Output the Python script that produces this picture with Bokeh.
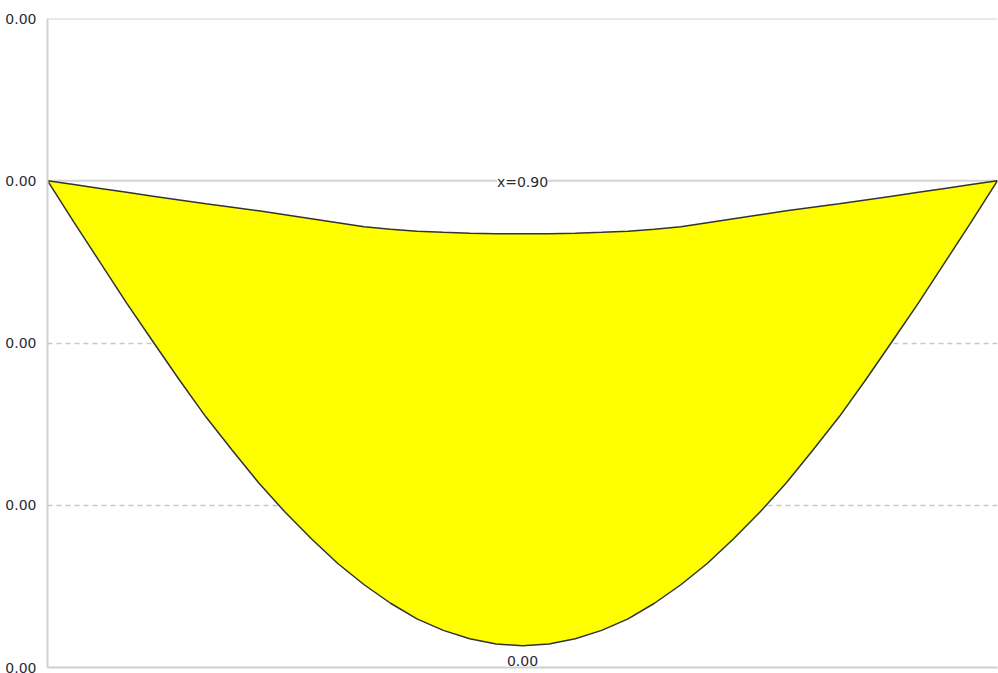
from bokeh.plotting import figure
from bokeh.models import FixedTicker, CustomJSTickFormatter, Span, Range1d
from bokeh.core.properties import value
from bokeh.embed import file_html
from bokeh.resources import INLINE

# positions along the member
x_pos = [0.0, 0.05, 0.1, 0.15, 0.2, 0.25, 0.3, 0.35, 0.4, 0.45, 0.5, 0.55,
         0.6, 0.65, 0.7, 0.75, 0.8, 0.85, 0.9, 0.95, 1.0, 1.05, 1.1, 1.15,
         1.2, 1.25, 1.3, 1.35, 1.4, 1.45, 1.5, 1.55, 1.6, 1.65, 1.7, 1.75, 1.8]
# upper (shallow) curve
upper = [0.0, -0.0000237, -0.0000475, -0.0000712, -0.0000949, -0.0001183,
         -0.0001418, -0.0001633, -0.0001849, -0.0002096, -0.0002342,
         -0.0002589, -0.0002835, -0.0002989, -0.0003112, -0.000318,
         -0.0003236, -0.000326, -0.0003267, -0.000326, -0.0003236,
         -0.000318, -0.0003112, -0.0002989, -0.0002835, -0.0002589,
         -0.0002342, -0.0002096, -0.0001849, -0.0001633, -0.0001418,
         -0.0001183, -0.0000949, -0.0000712, -0.0000475, -0.0000237, 0.0]
# lower (deep) curve
lower = [0.0, -0.0002545, -0.000505, -0.000754, -0.000992, -0.001228,
         -0.001455, -0.001661, -0.001861, -0.002042, -0.002206, -0.002359,
         -0.00249, -0.002604, -0.0027, -0.002771, -0.002823, -0.002855,
         -0.002866, -0.002855, -0.002823, -0.002771, -0.0027, -0.002604,
         -0.00249, -0.002359, -0.002206, -0.002042, -0.001861, -0.001661,
         -0.001455, -0.001228, -0.000992, -0.000754, -0.000505, -0.0002545, 0.0]

y_ticks = [0.001, 0.0, -0.001, -0.002, -0.003]
y_tick_labels = ["0.00", "0.00", "0.00", "0.00", "0.00"]
dashed_ticks = [-0.001, -0.002]

label_x = 0.9
label_top_text = "x=0.90"
label_min_text = "0.00"
label_min_y = -0.002866

p = figure(output_backend="svg", toolbar_location=None,
           frame_width=950, frame_height=649,
           min_border_left=47, min_border_top=18,
           min_border_right=1, min_border_bottom=6,
           x_range=Range1d(0, 1.8), y_range=Range1d(-0.003, 0.001))
p.outline_line_color = None
p.background_fill_color = "white"
p.border_fill_color = "white"

p.xgrid.visible = False
p.ygrid.ticker = FixedTicker(ticks=dashed_ticks)
p.ygrid.grid_line_color = "#c8c8c8"
p.ygrid.grid_line_dash = "5 4"
p.ygrid.grid_line_width = 1.5

for yv in [0.001, 0.0]:
    p.add_layout(Span(location=yv, dimension="width", level="underlay",
                      line_color="#d4d4d4", line_width=2))

# y axis
p.yaxis.ticker = FixedTicker(ticks=y_ticks)
p.yaxis.formatter = CustomJSTickFormatter(
    args=dict(tvals=y_ticks, tlabels=y_tick_labels),
    code="const i = tvals.findIndex(t => Math.abs(t - tick) < 1e-9); return i >= 0 ? tlabels[i] : '';")
p.yaxis.axis_line_color = "#d0d0d0"
p.yaxis.axis_line_width = 2
p.yaxis.major_tick_line_color = None
p.yaxis.minor_tick_line_color = None
p.yaxis.major_label_standoff = 5
p.yaxis.major_label_text_font = "DejaVu Sans"
p.yaxis.major_label_text_font_size = "14px"
p.yaxis.major_label_text_color = "#2a2a35"

# x axis
p.xaxis.ticker = FixedTicker(ticks=[])
p.xaxis.axis_line_color = "#d0d0d0"
p.xaxis.axis_line_width = 2
p.xaxis.major_tick_line_color = None
p.xaxis.minor_tick_line_color = None
p.xaxis.major_label_standoff = 0

# filled region between curves
px = x_pos + x_pos[::-1]
py = lower + upper[::-1]
p.patch(px, py, fill_color="#ffff00", line_color="#333333", line_width=1.5)

p.text(x=[label_x], y=[0.0], text=[label_top_text],
       text_font=value("DejaVu Sans"), text_font_size="14px",
       text_color="#2a2a35", text_align="center", text_baseline="middle",
       y_offset=1, background_fill_color="white")
p.text(x=[label_x], y=[label_min_y], text=[label_min_text],
       text_font=value("DejaVu Sans"), text_font_size="14px",
       text_color="#2a2a35", text_align="center", text_baseline="middle",
       y_offset=15)

open("out.html", "w").write(file_html(p, INLINE))
